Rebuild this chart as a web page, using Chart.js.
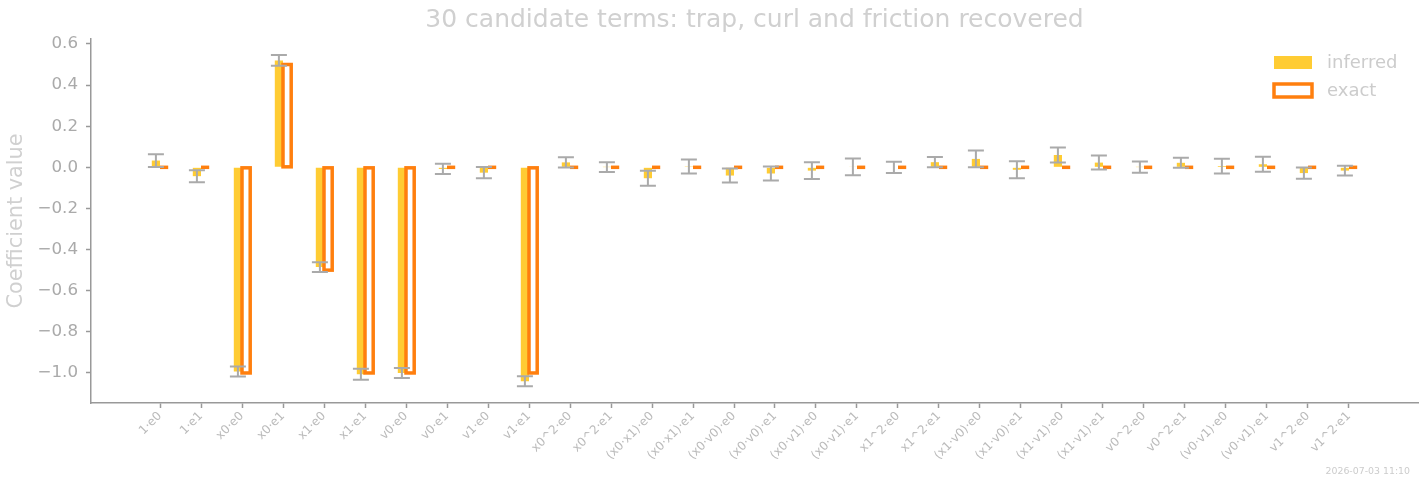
<!DOCTYPE html>
<html>
<head>
<meta charset="utf-8">
<script src="https://cdn.jsdelivr.net/npm/chart.js@4.4.1/dist/chart.umd.min.js"></script>
<style>
  html, body { margin: 0; padding: 0; background: #fff; }
  #wrap { position: relative; width: 1425px; height: 480px; }
  #stamp { position: absolute; right: 15px; top: 465px; font: 9.4px "DejaVu Sans", sans-serif; color: #cccccc; }
</style>
</head>
<body>
<div id="wrap">
  <canvas id="chart" width="1425" height="480"></canvas>
  <div id="stamp">2026-07-03 11:10</div>
</div>
<script>
// candidate terms (x axis)
const terms = ['1·e0', '1·e1', 'x0·e0', 'x0·e1', 'x1·e0', 'x1·e1', 'v0·e0', 'v0·e1', 'v1·e0', 'v1·e1',
    'x0^2·e0', 'x0^2·e1', '(x0·x1)·e0', '(x0·x1)·e1', '(x0·v0)·e0', '(x0·v0)·e1', '(x0·v1)·e0', '(x0·v1)·e1',
    'x1^2·e0', 'x1^2·e1', '(x1·v0)·e0', '(x1·v0)·e1', '(x1·v1)·e0', '(x1·v1)·e1', 'v0^2·e0', 'v0^2·e1',
    '(v0·v1)·e0', '(v0·v1)·e1', 'v1^2·e0', 'v1^2·e1'];

// inferred coefficients and their error bars
const inferred = [0.033, -0.043, -0.993, 0.52, -0.485, -1.006, -1.0, -0.008, -0.026, -1.04,
    0.024, 0.001, -0.053, 0.004, -0.04, -0.03, -0.016, 0.002,
    0.0, 0.025, 0.041, -0.012, 0.06, 0.023, 0.001, 0.022,
    0.006, 0.015, -0.028, -0.016];
const inferredErr = [0.031, 0.029, 0.024, 0.026, 0.024, 0.027, 0.024, 0.025, 0.027, 0.024,
    0.025, 0.024, 0.036, 0.034, 0.034, 0.034, 0.041, 0.041,
    0.027, 0.025, 0.041, 0.041, 0.036, 0.034, 0.027, 0.024,
    0.036, 0.036, 0.027, 0.024];

// exact coefficients
const exact = [0, 0, -1, 0.5, -0.5, -1, -1, 0, 0, -1,
    0, 0, 0, 0, 0, 0, 0, 0,
    0, 0, 0, 0, 0, 0, 0, 0,
    0, 0, 0, 0];

const yTicks = [-1.0, -0.8, -0.6, -0.4, -0.2, 0.0, 0.2, 0.4, 0.6];

const YELLOW = '#ffcc33';
const ORANGE = '#ff7f0e';
const ERR_GREY = '#aaaaaa';
const AXIS_GREY = '#999999';
const FONT = '"DejaVu Sans", sans-serif';

// exact bars as outlines (also zero ones), then error bars on top
const overlay = {
    id: 'overlay',
    afterDatasetsDraw(chart) {
        const ctx = chart.ctx;
        const y = chart.scales.y;
        ctx.save();
        const lw = 3.5;
        chart.getDatasetMeta(1).data.forEach(bar => {
            const w = bar.width;
            const top = Math.min(bar.y, bar.base);
            const h = Math.abs(bar.base - bar.y);
            if (h < 1) {
                ctx.fillStyle = ORANGE;
                ctx.fillRect(bar.x - w / 2, bar.y - lw / 2, w, lw);
            } else {
                ctx.strokeStyle = ORANGE;
                ctx.lineWidth = lw;
                ctx.lineJoin = 'miter';
                ctx.strokeRect(bar.x - w / 2, top, w, h);
            }
        });
        ctx.strokeStyle = ERR_GREY;
        ctx.lineWidth = 2;
        chart.getDatasetMeta(0).data.forEach((bar, i) => {
            const hi = y.getPixelForValue(inferred[i] + inferredErr[i]);
            const lo = y.getPixelForValue(inferred[i] - inferredErr[i]);
            ctx.beginPath();
            ctx.moveTo(bar.x, hi); ctx.lineTo(bar.x, lo);
            ctx.moveTo(bar.x - 8, hi); ctx.lineTo(bar.x + 8, hi);
            ctx.moveTo(bar.x - 8, lo); ctx.lineTo(bar.x + 8, lo);
            ctx.stroke();
        });
        ctx.restore();
    },
    afterDraw(chart) {
        // legend in the upper right of the plot
        const ctx = chart.ctx;
        ctx.save();
        ctx.fillStyle = YELLOW;
        ctx.fillRect(1274, 56, 38, 13);
        ctx.strokeStyle = ORANGE;
        ctx.lineWidth = 3.5;
        ctx.fillStyle = '#ffffff';
        ctx.fillRect(1274, 84, 38, 13);
        ctx.strokeRect(1274, 84, 38, 13);
        ctx.fillStyle = '#cccccc';
        ctx.font = '18px ' + FONT;
        ctx.textBaseline = 'middle';
        ctx.fillText('inferred', 1327, 63);
        ctx.fillText('exact', 1327, 91);
        ctx.restore();
    }
};

new Chart(document.getElementById('chart'), {
    type: 'bar',
    data: {
        datasets: [
            {
                label: 'inferred',
                data: inferred.map((v, i) => ({ x: i, y: v })),
                backgroundColor: YELLOW,
                borderWidth: 0
            },
            {
                label: 'exact',
                data: exact.map((v, i) => ({ x: i, y: v })),
                backgroundColor: 'rgba(0,0,0,0)',
                borderWidth: 0
            }
        ]
    },
    options: {
        responsive: false,
        animation: false,
        barPercentage: 1.0,
        categoryPercentage: 0.4,
        layout: { padding: { left: 0, right: 7, top: 0, bottom: 0 } },
        plugins: {
            legend: { display: false },
            tooltip: { enabled: false },
            title: {
                display: true,
                fullSize: false,
                text: '30 candidate terms: trap, curl and friction recovered',
                color: '#d0d0d0',
                font: { family: FONT, size: 25, weight: 'normal' },
                padding: { top: 5, bottom: 4 }
            }
        },
        scales: {
            x: {
                type: 'linear',
                min: -1.683,
                max: 30.683,
                offset: false,
                afterBuildTicks: s => { s.ticks = terms.map((_, i) => ({ value: i })); },
                afterFit: s => { s.height = 77; },
                grid: { display: true, drawOnChartArea: false, drawTicks: true, tickLength: 5, tickColor: AXIS_GREY, tickWidth: 1.5, offset: false },
                border: { display: true, color: AXIS_GREY, width: 1.5 },
                ticks: {
                    autoSkip: false,
                    minRotation: 45,
                    maxRotation: 45,
                    padding: 1,
                    color: '#bbbbbb',
                    font: { family: FONT, size: 12 },
                    callback: v => terms[v]
                }
            },
            y: {
                min: -1.146,
                max: 0.624,
                afterBuildTicks: s => { s.ticks = yTicks.map(v => ({ value: v })); },
                afterFit: s => { s.width = 91; },
                grid: { display: true, drawOnChartArea: false, drawTicks: true, tickLength: 5, tickColor: AXIS_GREY, tickWidth: 1.5 },
                border: { display: true, color: AXIS_GREY, width: 1.5 },
                ticks: {
                    padding: 8,
                    color: '#aaaaaa',
                    font: { family: FONT, size: 16.7 },
                    callback: v => (v < 0 ? '\u2212' : '') + Math.abs(v).toFixed(1)
                },
                title: {
                    display: true,
                    text: 'Coefficient value',
                    color: '#d0d0d0',
                    font: { family: FONT, size: 20.8 },
                    padding: { top: 4, bottom: 0 }
                }
            }
        }
    },
    plugins: [overlay]
});
</script>
</body>
</html>
